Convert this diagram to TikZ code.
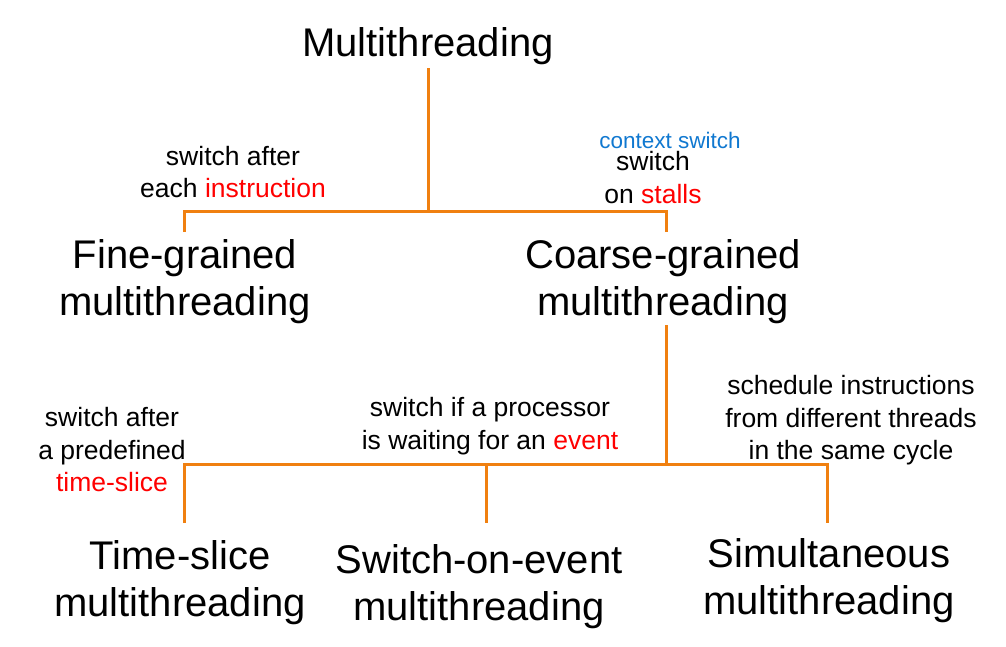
\documentclass[tikz,border=0pt]{standalone}
\usepackage{fontspec}
\setmainfont{Liberation Sans}
\definecolor{lineorange}{RGB}{240,128,16}
\definecolor{hlred}{RGB}{255,0,0}
\definecolor{ctxblue}{RGB}{16,120,208}
\tikzset{
  bigtext/.style={inner sep=0pt, align=center, font=\fontsize{40}{47}\selectfont},
  smalltext/.style={inner sep=0pt, align=center, font=\fontsize{26.5}{32.5}\selectfont},
  bluetext/.style={inner sep=0pt, align=center, text=ctxblue, font=\fontsize{22.5}{27}\selectfont},
  treeline/.style={draw=lineorange, line width=3pt, line join=miter}
}
\begin{document}
\begin{tikzpicture}[x=1pt,y=-1pt]
\useasboundingbox (0,0) rectangle (1006,646);
% main nodes
\node[bigtext] (root) at (428,46) {Multithreading};
\node[bigtext] (fine) at (185,281.5) {Fine-grained\\multithreading};
\node[bigtext] (coarse) at (663,281.5) {Coarse-grained\\multithreading};
\node[bigtext] (tslice) at (180,583) {Time-slice\\multithreading};
\node[bigtext] (soe) at (479,587) {Switch-on-event\\multithreading};
\node[bigtext] (simul) at (829,581) {Simultaneous\\multithreading};
% labels
\node[smalltext] (lfine) at (233,172) {switch after\\each \textcolor{hlred}{instruction}};
\node[bluetext] (lctx) at (670,140) {context switch};
\node[smalltext] (lcoarse) at (653,177.5) {switch\\on \textcolor{hlred}{stalls}};
\node[smalltext] (lts) at (112,450) {switch after\\a predefined\\\textcolor{hlred}{time-slice}};
\node[smalltext] (lsoe) at (490,426) {switch if a processor\\is waiting for an \textcolor{hlred}{event}};
\node[smalltext] (lsim) at (851,420.5) {schedule instructions\\from different threads\\in the same cycle};
% connector coordinates
\coordinate (rootdown) at (428,68);
\coordinate (rootjoin) at (428,211);
\coordinate (finetop) at (184,232);
\coordinate (finecorner) at (184,211);
\coordinate (coarsecorner) at (666,211);
\coordinate (coarsetop) at (666,232);
\coordinate (coarsedown) at (666,325);
\coordinate (coarsejoin) at (666,464);
\coordinate (tstop) at (184,523);
\coordinate (tscorner) at (184,464);
\coordinate (soejoin) at (486,464);
\coordinate (soetop) at (486,523);
\coordinate (simcorner) at (827,464);
\coordinate (simtop) at (827,523);
% connectors
\draw[treeline] (rootdown) -- (rootjoin);
\draw[treeline] (finetop) -- (finecorner) -- (coarsecorner) -- (coarsetop);
\draw[treeline] (coarsedown) -- (coarsejoin);
\draw[treeline] (tstop) -- (tscorner) -- (simcorner) -- (simtop);
\draw[treeline] (soejoin) -- (soetop);
\end{tikzpicture}
\end{document}
